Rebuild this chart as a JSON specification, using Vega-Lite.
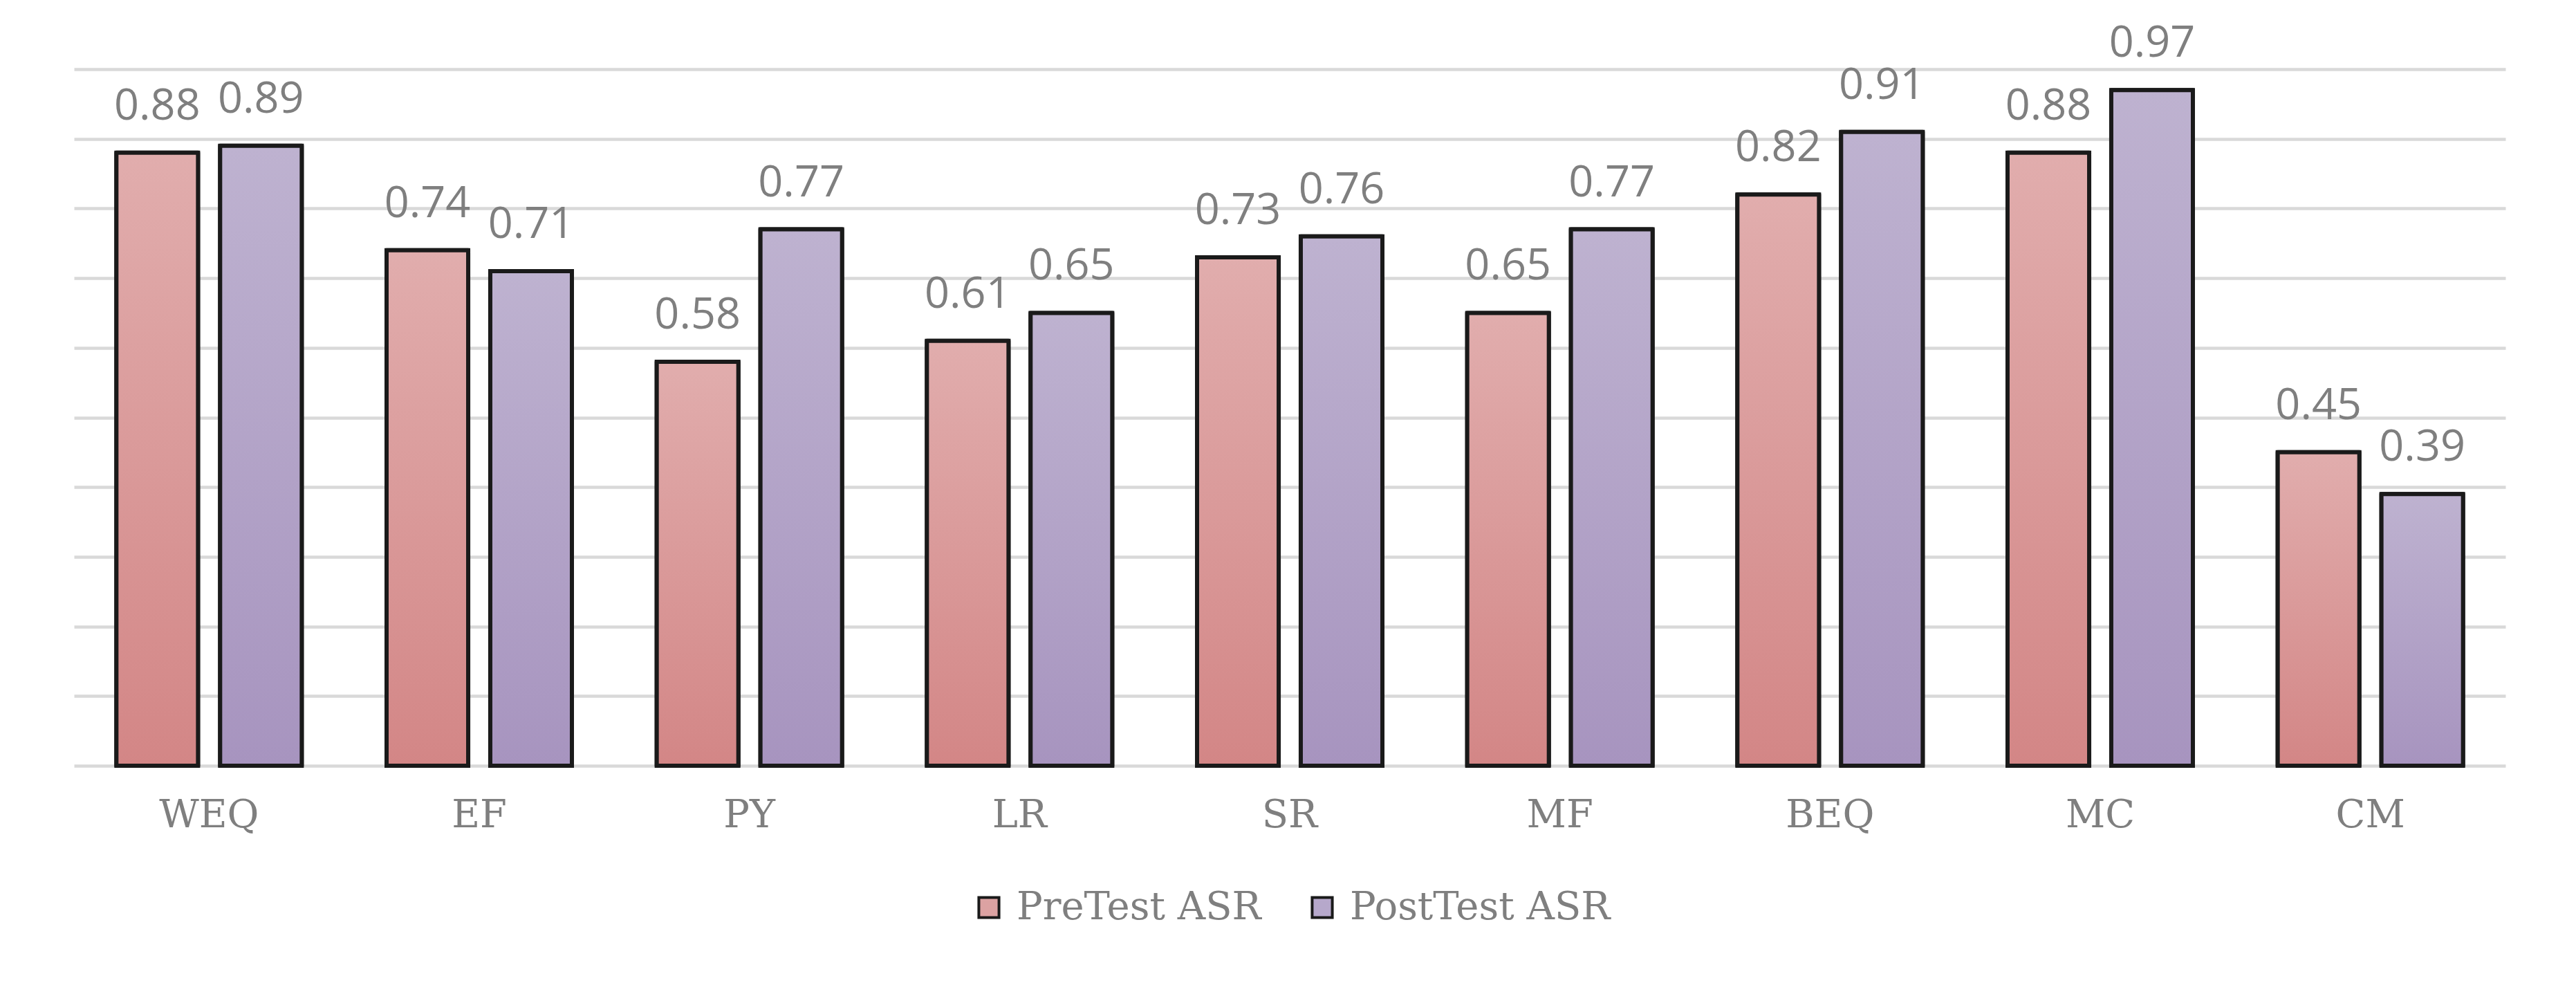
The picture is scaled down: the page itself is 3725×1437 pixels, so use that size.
{
  "$schema": "https://vega.github.io/schema/vega-lite/v6.json",
  "width": 3516,
  "height": 1007,
  "autosize": {"type": "none"},
  "padding": {"left": 107, "top": 100, "right": 102, "bottom": 330},
  "background": "white",
  "data": {
    "values": [
      {"metric": "WEQ", "series": "PreTest ASR", "value": 0.88},
      {"metric": "WEQ", "series": "PostTest ASR", "value": 0.89},
      {"metric": "EF", "series": "PreTest ASR", "value": 0.74},
      {"metric": "EF", "series": "PostTest ASR", "value": 0.71},
      {"metric": "PY", "series": "PreTest ASR", "value": 0.58},
      {"metric": "PY", "series": "PostTest ASR", "value": 0.77},
      {"metric": "LR", "series": "PreTest ASR", "value": 0.61},
      {"metric": "LR", "series": "PostTest ASR", "value": 0.65},
      {"metric": "SR", "series": "PreTest ASR", "value": 0.73},
      {"metric": "SR", "series": "PostTest ASR", "value": 0.76},
      {"metric": "MF", "series": "PreTest ASR", "value": 0.65},
      {"metric": "MF", "series": "PostTest ASR", "value": 0.77},
      {"metric": "BEQ", "series": "PreTest ASR", "value": 0.82},
      {"metric": "BEQ", "series": "PostTest ASR", "value": 0.91},
      {"metric": "MC", "series": "PreTest ASR", "value": 0.88},
      {"metric": "MC", "series": "PostTest ASR", "value": 0.97},
      {"metric": "CM", "series": "PreTest ASR", "value": 0.45},
      {"metric": "CM", "series": "PostTest ASR", "value": 0.39}
    ]
  },
  "encoding": {
    "x": {
      "field": "metric",
      "type": "nominal",
      "sort": ["WEQ", "EF", "PY", "LR", "SR", "MF", "BEQ", "MC", "CM"],
      "scale": {"paddingInner": 0.314, "paddingOuter": 0.157},
      "title": null,
      "axis": {
        "labelAngle": 0,
        "domain": false,
        "ticks": false,
        "grid": false,
        "labelFont": "DejaVu Serif",
        "labelFontSize": 56,
        "labelColor": "#7f7f7f",
        "labelPadding": 44
      }
    },
    "xOffset": {
      "field": "series",
      "type": "nominal",
      "sort": ["PreTest ASR", "PostTest ASR"],
      "scale": {"paddingInner": 0.213, "paddingOuter": 0}
    },
    "y": {
      "field": "value",
      "type": "quantitative",
      "scale": {"domain": [0, 1], "nice": false},
      "title": null,
      "axis": {
        "values": [0, 0.1, 0.2, 0.3, 0.4, 0.5, 0.6, 0.7, 0.8, 0.9, 1.0],
        "grid": true,
        "gridColor": "#d9d9d9",
        "gridWidth": 4.5,
        "labels": false,
        "ticks": false,
        "domain": false
      }
    }
  },
  "layer": [
    {
      "mark": {"type": "bar", "stroke": "#1a1a1a", "strokeWidth": 6},
      "encoding": {
        "color": {
          "field": "series",
          "type": "nominal",
          "scale": {"domain": ["PreTest ASR", "PostTest ASR"], "range": ["#DCA2A2", "#B6A8CB"]},
          "legend": {
            "orient": "bottom",
            "direction": "horizontal",
            "title": null,
            "symbolType": "square",
            "symbolSize": 850,
            "symbolStrokeColor": "#1a1a1a",
            "symbolStrokeWidth": 4,
            "symbolOpacity": 1,
            "labelFont": "DejaVu Serif",
            "labelFontSize": 56,
            "labelColor": "#7f7f7f",
            "labelLimit": 1000,
            "labelOffset": 12,
            "columnPadding": 60,
            "offset": 78
          }
        }
      }
    },
    {
      "mark": {"type": "bar", "stroke": "#1a1a1a", "strokeWidth": 6, "strokeJoin": "round"},
      "encoding": {
        "fill": {
          "condition": {
            "test": "datum.series === 'PreTest ASR'",
            "value": {
              "gradient": "linear", "x1": 0, "y1": 0, "x2": 0, "y2": 1,
              "stops": [{"offset": 0, "color": "#E1ADAD"}, {"offset": 1, "color": "#D38686"}]
            }
          },
          "value": {
            "gradient": "linear", "x1": 0, "y1": 0, "x2": 0, "y2": 1,
            "stops": [{"offset": 0, "color": "#BEB2D0"}, {"offset": 1, "color": "#A794BF"}]
          }
        }
      }
    },
    {
      "mark": {
        "type": "text",
        "font": "Open Sans",
        "fontSize": 63,
        "fill": "#7f7f7f",
        "baseline": "alphabetic",
        "align": "center",
        "dy": -48
      },
      "encoding": {
        "text": {"field": "value", "type": "quantitative", "format": ".2f"}
      }
    }
  ],
  "config": {
    "view": {"stroke": null},
    "legend": {"layout": {"bottom": {"anchor": "middle"}}}
  }
}
